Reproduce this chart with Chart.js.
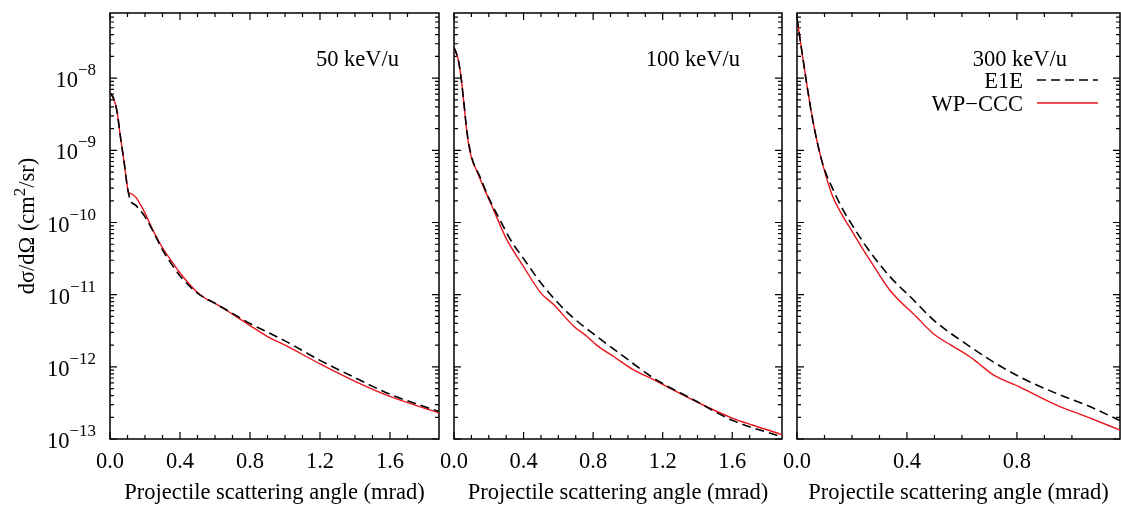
<!DOCTYPE html>
<html lang="en">
<head>
<meta charset="UTF-8">
<title>Differential cross sections</title>
<script src="https://cdn.jsdelivr.net/npm/chart.js"></script>
<style>
  body { margin: 0; background: #fff; }
  #wrap { position: relative; width: 1121px; height: 509px; }
  .panel { position: absolute; top: 0; height: 509px; }
</style>
</head>
<body>
<div id="wrap">
  <div class="panel" style="left:0;width:446px"><canvas id="c50"></canvas></div>
  <div class="panel" style="left:436px;width:354px"><canvas id="c100"></canvas></div>
  <div class="panel" style="left:775px;width:346px"><canvas id="c300"></canvas></div>
</div>
<script>
// 50 keV/u
const angle50E1E = [0, 0.02, 0.04, 0.06, 0.08, 0.1, 0.115, 0.15, 0.2, 0.25, 0.3, 0.35, 0.4, 0.5, 0.6, 0.7, 0.8, 0.9, 1.0, 1.2, 1.4, 1.6, 1.88];
const sigma50E1E = [6.31e-9, 5.25e-9, 3.47e-9, 1.51e-9, 7.08e-10, 3.02e-10, 2.09e-10, 1.70e-10, 1.20e-10, 7.24e-11, 4.17e-11, 2.69e-11, 1.82e-11, 1.05e-11, 7.59e-12, 5.50e-12, 3.98e-12, 3.02e-12, 2.29e-12, 1.23e-12, 7.08e-13, 4.17e-13, 2.40e-13];
const angle50CCC = [0, 0.02, 0.04, 0.06, 0.08, 0.1, 0.105, 0.12, 0.15, 0.2, 0.25, 0.3, 0.35, 0.4, 0.5, 0.55, 0.6, 0.7, 0.8, 0.9, 1.0, 1.2, 1.4, 1.6, 1.88];
const sigma50CCC = [6.31e-9, 5.25e-9, 3.47e-9, 1.51e-9, 7.08e-10, 3.02e-10, 2.63e-10, 2.51e-10, 2.19e-10, 1.35e-10, 7.41e-11, 4.47e-11, 2.95e-11, 2.0e-11, 1.07e-11, 8.71e-12, 7.59e-12, 5.37e-12, 3.72e-12, 2.63e-12, 2.0e-12, 1.10e-12, 6.31e-13, 3.89e-13, 2.29e-13];

// 100 keV/u
const angle100E1E = [0, 0.025, 0.04, 0.055, 0.075, 0.1, 0.15, 0.2, 0.27, 0.33, 0.4, 0.5, 0.6, 0.69, 0.8, 0.95, 1.15, 1.38, 1.6, 1.886];
const sigma100E1E = [2.69e-8, 1.78e-8, 1.05e-8, 5.01e-9, 1.78e-9, 8.32e-10, 4.27e-10, 2.19e-10, 1.02e-10, 5.50e-11, 3.16e-11, 1.45e-11, 7.59e-12, 4.68e-12, 2.88e-12, 1.55e-12, 6.92e-13, 3.47e-13, 1.82e-13, 1.07e-13];
const angle100CCC = [0, 0.025, 0.04, 0.055, 0.075, 0.1, 0.13, 0.17, 0.23, 0.3, 0.4, 0.5, 0.57, 0.69, 0.76, 0.82, 0.92, 1.03, 1.15, 1.26, 1.45, 1.6, 1.72, 1.886];
const sigma100CCC = [2.69e-8, 1.78e-8, 1.05e-8, 5.01e-9, 1.70e-9, 7.94e-10, 5.25e-10, 3.09e-10, 1.45e-10, 6.03e-11, 2.45e-11, 1.05e-11, 7.41e-12, 3.63e-12, 2.69e-12, 2.0e-12, 1.38e-12, 9.12e-13, 6.61e-13, 4.79e-13, 2.82e-13, 1.95e-13, 1.55e-13, 1.15e-13];

// 300 keV/u
const angle300E1E = [0, 0.017, 0.035, 0.053, 0.072, 0.096, 0.132, 0.168, 0.2, 0.253, 0.338, 0.423, 0.496, 0.629, 0.714, 0.811, 0.944, 1.053, 1.177];
const sigma300E1E = [6.76e-8, 2.45e-8, 8.51e-9, 3.24e-9, 1.38e-9, 6.03e-10, 2.82e-10, 1.48e-10, 9.33e-11, 4.57e-11, 1.78e-11, 8.51e-12, 4.47e-12, 1.91e-12, 1.17e-12, 7.24e-13, 4.27e-13, 2.95e-13, 1.78e-13];
const angle300CCC = [0, 0.017, 0.035, 0.053, 0.072, 0.096, 0.126, 0.168, 0.2, 0.235, 0.27, 0.338, 0.435, 0.496, 0.56, 0.629, 0.66, 0.714, 0.811, 0.944, 1.053, 1.177];
const sigma300CCC = [6.76e-8, 2.45e-8, 8.51e-9, 3.24e-9, 1.38e-9, 5.89e-10, 2.51e-10, 1.20e-10, 7.59e-11, 4.57e-11, 2.82e-11, 1.15e-11, 4.90e-12, 2.88e-12, 2.0e-12, 1.38e-12, 1.12e-12, 7.76e-13, 5.25e-13, 2.95e-13, 2.04e-13, 1.32e-13];

// axes
const yMin = 1e-13, yMax = 8e-8;
const yDecades = [1e-13, 1e-12, 1e-11, 1e-10, 1e-9, 1e-8];
const yDecadeExp = ['\u221213', '\u221212', '\u221211', '\u221210', '\u22129', '\u22128'];
const yMinorSteps = [2, 3, 4, 5, 6, 7, 8, 9];
const xLabelStep = 0.4, xMinorStep = 0.1;
const seriesNames = ['E1E', 'WP\u2212CCC'];

const FONT = 'Liberation Serif';
const onStep = (v, step) => Math.abs(v / step - Math.round(v / step)) < 1e-6;

const framePlugin = {
    id: 'frame',
    beforeDatasetsDraw(chart) {
        const { ctx, chartArea: a, scales: { x, y } } = chart;
        ctx.save();
        ctx.strokeStyle = '#000';
        ctx.lineWidth = 1.2;
        ctx.beginPath();
        x.ticks.forEach(t => {
            if (!onStep(t.value, xMinorStep)) return;
            const px = x.getPixelForValue(t.value);
            const len = onStep(t.value, xLabelStep) ? 7 : 4;
            ctx.moveTo(px, a.bottom); ctx.lineTo(px, a.bottom - len);
            ctx.moveTo(px, a.top); ctx.lineTo(px, a.top + len);
        });
        y.ticks.forEach(t => {
            const py = y.getPixelForValue(t.value);
            const len = t.major ? 7 : 4;
            ctx.moveTo(a.left, py); ctx.lineTo(a.left + len, py);
            ctx.moveTo(a.right, py); ctx.lineTo(a.right - len, py);
        });
        ctx.stroke();
        ctx.lineWidth = 1.5;
        ctx.strokeRect(a.left, a.top, a.right - a.left, a.bottom - a.top);
        ctx.restore();
    },
    afterDraw(chart) {
        const { ctx, chartArea: a, scales: { y } } = chart;
        const cfg = chart.options.plugins.frame;
        ctx.save();
        ctx.fillStyle = '#000';
        ctx.textBaseline = 'alphabetic';

        if (cfg.yLabels) {
            yDecades.forEach((d, i) => {
                const py = y.getPixelForValue(d);
                const right = a.left - 14;
                ctx.font = `17px "${FONT}"`;
                const wSup = ctx.measureText(yDecadeExp[i]).width;
                ctx.font = `22.5px "${FONT}"`;
                const wBase = ctx.measureText('10').width;
                ctx.textAlign = 'left';
                ctx.fillText('10', right - wSup - wBase, py + 9);
                ctx.font = `17px "${FONT}"`;
                ctx.fillText(yDecadeExp[i], right - wSup, py - 3);
            });
            // y title: dσ/dΩ (cm^2/sr)
            ctx.save();
            ctx.translate(34, (a.top + a.bottom) / 2);
            ctx.rotate(-Math.PI / 2);
            const parts = [['d\u03c3/d\u03a9 (cm', 22.5, 0], ['2', 17, -9], ['/sr)', 22.5, 0]];
            let total = 0;
            parts.forEach(p => { ctx.font = `${p[1]}px "${FONT}"`; total += ctx.measureText(p[0]).width; });
            let cx = -total / 2;
            ctx.textAlign = 'left';
            parts.forEach(p => {
                ctx.font = `${p[1]}px "${FONT}"`;
                ctx.fillText(p[0], cx, p[2]);
                cx += ctx.measureText(p[0]).width;
            });
            ctx.restore();
        }

        ctx.font = `22.5px "${FONT}"`;
        ctx.textAlign = 'right';
        ctx.fillText(cfg.label, a.right - cfg.labelInset, a.top + 53);

        if (cfg.legend) {
            const ds = chart.data.datasets;
            const rows = [a.top + 67, a.top + 90];
            ds.forEach((d, i) => {
                ctx.fillText(d.label, a.right - 97, rows[i] + 8);
                ctx.beginPath();
                ctx.strokeStyle = d.borderColor;
                ctx.lineWidth = d.borderWidth;
                ctx.setLineDash(d.borderDash || []);
                ctx.moveTo(a.right - 83, rows[i]);
                ctx.lineTo(a.right - 22, rows[i]);
                ctx.stroke();
            });
        }
        ctx.restore();
    }
};

function pairs(xs, ys) {
    return xs.map((x, i) => ({ x: x, y: ys[i] }));
}

function makePanel(id, opts) {
    const tickFont = { family: FONT, size: 22.5 };
    new Chart(document.getElementById(id), {
        type: 'line',
        data: {
            datasets: [
                {
                    label: seriesNames[0],
                    data: pairs(opts.xE1E, opts.yE1E),
                    borderColor: '#000',
                    borderWidth: 1.6,
                    borderDash: [9, 5],
                    pointRadius: 0,
                    cubicInterpolationMode: 'monotone',
                    fill: false
                },
                {
                    label: seriesNames[1],
                    data: pairs(opts.xCCC, opts.yCCC),
                    borderColor: '#e8141c',
                    borderWidth: 1.4,
                    pointRadius: 0,
                    cubicInterpolationMode: 'monotone',
                    fill: false
                }
            ]
        },
        options: {
            responsive: true,
            maintainAspectRatio: false,
            animation: false,
            layout: { padding: { top: 13, right: opts.padRight, left: 0, bottom: 0 } },
            plugins: {
                legend: { display: false },
                tooltip: { enabled: false },
                frame: { label: opts.label, labelInset: opts.labelInset, yLabels: opts.yLabels, legend: opts.legend }
            },
            scales: {
                x: {
                    type: 'linear',
                    min: 0,
                    max: opts.xMax,
                    grid: { display: false, drawTicks: false },
                    border: { display: false },
                    ticks: {
                        stepSize: xMinorStep,
                        autoSkip: false,
                        maxRotation: 0,
                        padding: 10,
                        color: '#000',
                        font: tickFont,
                        callback: v => onStep(v, xLabelStep) ? v.toFixed(1) : ''
                    },
                    title: {
                        display: true,
                        text: 'Projectile scattering angle (mrad)',
                        color: '#000',
                        font: tickFont,
                        padding: { top: 0, bottom: 2 }
                    },
                    afterFit: s => { s.height = 70; s.paddingLeft = 0; s.paddingRight = 0; }
                },
                y: {
                    type: 'logarithmic',
                    min: yMin,
                    max: yMax,
                    grid: { display: false, drawTicks: false },
                    border: { display: false },
                    ticks: { display: false },
                    afterBuildTicks: s => {
                        const t = [];
                        yDecades.forEach(d => {
                            t.push({ value: d, major: true });
                            yMinorSteps.forEach(m => { if (d * m < yMax) t.push({ value: d * m, major: false }); });
                        });
                        s.ticks = t;
                    },
                    afterFit: s => { s.width = opts.yWidth; }
                }
            }
        },
        plugins: [framePlugin]
    });
}

makePanel('c50', {
    xE1E: angle50E1E, yE1E: sigma50E1E, xCCC: angle50CCC, yCCC: sigma50CCC,
    xMax: 1.88, yWidth: 110, padRight: 7, label: '50 keV/u', labelInset: 40, yLabels: true, legend: false
});
makePanel('c100', {
    xE1E: angle100E1E, yE1E: sigma100E1E, xCCC: angle100CCC, yCCC: sigma100CCC,
    xMax: 1.886, yWidth: 18, padRight: 8, label: '100 keV/u', labelInset: 42, yLabels: false, legend: false
});
makePanel('c300', {
    xE1E: angle300E1E, yE1E: sigma300E1E, xCCC: angle300CCC, yCCC: sigma300CCC,
    xMax: 1.175, yWidth: 22, padRight: 1, label: '300 keV/u', labelInset: 53, yLabels: false, legend: true
});
</script>
</body>
</html>
